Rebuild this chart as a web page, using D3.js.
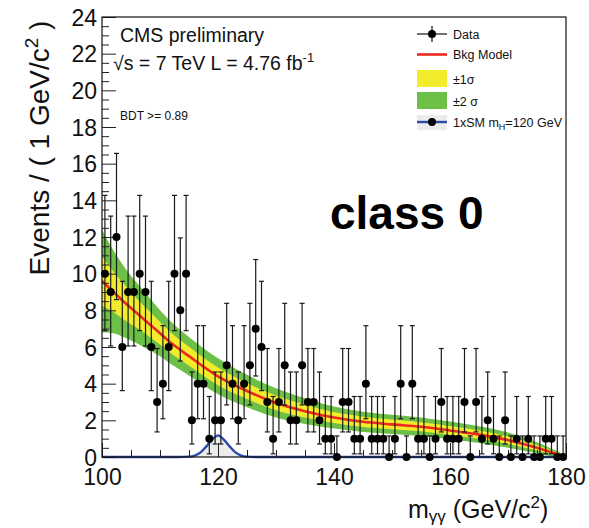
<!DOCTYPE html>
<html><head><meta charset="utf-8">
<script src="https://cdn.jsdelivr.net/npm/d3@7"></script>
<style>
body{margin:0;background:#fff;}
svg{display:block;font-family:"Liberation Sans",Arial,Helvetica,sans-serif;}
</style>
</head><body>
<svg id="c" width="589" height="528"></svg>
<script>
// ---- data ----
const binCenters = [100.5,101.5,102.5,103.5,104.5,105.5,106.5,107.5,108.5,109.5,
  110.5,111.5,112.5,113.5,114.5,115.5,116.5,117.5,118.5,119.5,
  120.5,121.5,122.5,123.5,124.5,125.5,126.5,127.5,128.5,129.5,
  130.5,131.5,132.5,133.5,134.5,135.5,136.5,137.5,138.5,139.5,
  140.5,141.5,142.5,143.5,144.5,145.5,146.5,147.5,148.5,149.5,
  150.5,151.5,152.5,153.5,154.5,155.5,156.5,157.5,158.5,159.5,
  160.5,161.5,162.5,163.5,164.5,165.5,166.5,167.5,168.5,169.5,
  170.5,171.5,172.5,173.5,174.5,175.5,176.5,177.5,178.5,179.5];
const counts = [10,9,12,6,9,9,10,9,6,3,
  4,6,10,8,10,2,4,4,1,2,
  2,5,4,2,4,5,7,6,3,1,
  3,5,2,2,5,3,3,2,1,1,
  0,3,3,1,1,4,1,1,1,0,
  1,4,0,4,1,1,0,1,3,1,
  1,1,3,0,3,1,2,1,0,2,
  0,1,0,1,0,0,1,1,0,0];
// Poisson 68% interval bounds, indexed by count
const poissonLow  = [0, 0.173, 0.708, 1.367, 2.086, 2.840, 3.620, 4.419, 5.232, 6.057, 6.891, 7.734, 8.585];
const poissonHigh = [1.148, 3.300, 4.638, 5.918, 7.163, 8.382, 9.584, 10.77, 11.95, 13.14, 14.27, 15.42, 16.56];

const bkgMass   = [100, 102, 104, 106, 108, 110, 112, 115, 120, 125, 130, 135, 140, 145, 150, 155, 160, 165, 170, 175, 178, 180];
const bkgValue  = [9.6, 9.0, 8.4, 7.85, 7.3, 6.75, 6.2, 5.5, 4.4, 3.6, 2.95, 2.5, 2.15, 1.92, 1.78, 1.65, 1.45, 1.22, 0.92, 0.5, 0.2, 0.0];
const bkgSigma1 = [1.35, 1.1, 0.95, 0.8, 0.7, 0.62, 0.57, 0.52, 0.48, 0.43, 0.4, 0.35, 0.3, 0.28, 0.26, 0.25, 0.24, 0.23, 0.21, 0.15, 0.09, 0.05];
const bkgSigma2 = [2.8, 2.25, 1.9, 1.65, 1.45, 1.25, 1.15, 1.05, 0.98, 0.88, 0.8, 0.7, 0.6, 0.55, 0.52, 0.5, 0.48, 0.46, 0.42, 0.3, 0.18, 0.1];

const sigMass  = [100, 113, 115, 116, 117, 118, 119, 120, 121, 122, 123, 124, 125, 127, 180];
const sigValue = [0, 0, 0.02, 0.08, 0.25, 0.58, 0.95, 1.18, 0.95, 0.58, 0.25, 0.08, 0.02, 0, 0];

const xTicks = [100, 120, 140, 160, 180];
const xMinorTicks = [105,110,115,125,130,135,145,150,155,165,170,175];
const yTicks = [0,2,4,6,8,10,12,14,16,18,20,22,24];
const yMinorTicks = [];
for (let v = 0.5; v < 24; v += 0.5) if (v % 2 !== 0) yMinorTicks.push(v);

// ---- colours ----
const cYellow = "#f2ec2c", cGreen = "#6cbf47", cRed = "#ec2a22", cBlue = "#2b4aa6";

const svg = d3.select("#c");
const x = d3.scaleLinear().domain([100, 180]).range([102, 566]);
const y = d3.scaleLinear().domain([0, 24]).range([457, 17]);

const bkg = bkgMass.map((m, i) => ({m, v: bkgValue[i], s1: bkgSigma1[i], s2: bkgSigma2[i]}));
const curve = d3.curveMonotoneX;

// 2 sigma band
svg.append("path").datum(bkg)
  .attr("fill", cGreen)
  .attr("d", d3.area().curve(curve).x(d => x(d.m)).y0(d => y(Math.max(0, d.v - d.s2))).y1(d => y(d.v + d.s2)));
// 1 sigma band
svg.append("path").datum(bkg)
  .attr("fill", cYellow)
  .attr("d", d3.area().curve(curve).x(d => x(d.m)).y0(d => y(Math.max(0, d.v - d.s1))).y1(d => y(d.v + d.s1)));
// background model
svg.append("path").datum(bkg)
  .attr("fill", "none").attr("stroke", cRed).attr("stroke-width", 2.6)
  .attr("d", d3.line().curve(curve).x(d => x(d.m)).y(d => y(d.v)));

// signal
const sig = sigMass.map((m, i) => ({m, v: sigValue[i]}));
svg.append("path").datum(sig)
  .attr("fill", "#ececec")
  .attr("d", d3.area().curve(d3.curveMonotoneX).x(d => x(d.m)).y0(y(0)).y1(d => y(d.v)));
svg.append("path").datum(sig)
  .attr("fill", "none").attr("stroke", cBlue).attr("stroke-width", 2.4)
  .attr("d", d3.line().curve(d3.curveMonotoneX).x(d => x(d.m)).y(d => y(d.v)));

// axes ticks (inward)
const gY = svg.append("g").attr("transform", `translate(${x(100)},0)`)
  .call(d3.axisLeft(y).tickValues(yTicks).tickSize(-14).tickPadding(5).tickFormat(d3.format("d")));
const gYm = svg.append("g").attr("transform", `translate(${x(100)},0)`)
  .call(d3.axisLeft(y).tickValues(yMinorTicks).tickSize(-7).tickFormat(""));
const gX = svg.append("g").attr("transform", `translate(0,${y(0)})`)
  .call(d3.axisBottom(x).tickValues(xTicks).tickSize(-14).tickPadding(12).tickFormat(d3.format("d")));
const gXm = svg.append("g").attr("transform", `translate(0,${y(0)})`)
  .call(d3.axisBottom(x).tickValues(xMinorTicks).tickSize(-7).tickFormat(""));
[gY, gYm, gX, gXm].forEach(g => {
  g.select(".domain").remove();
  g.selectAll(".tick line").attr("stroke", "#222").attr("stroke-width", 1);
  g.selectAll("text").attr("fill", "#111").attr("font-size", 23).attr("font-family", '"Liberation Sans",Arial,sans-serif');
});
gY.selectAll("text").attr("dy", "0.36em");

// data points with error bars
const pts = binCenters.map((m, i) => ({m, n: counts[i]}));
const gD = svg.append("g");
const pg = gD.selectAll("g").data(pts).join("g");
pg.append("line")
  .attr("x1", d => x(d.m)).attr("x2", d => x(d.m))
  .attr("y1", d => y(poissonLow[d.n])).attr("y2", d => y(poissonHigh[d.n]))
  .attr("stroke", "#1a1a1a").attr("stroke-width", 1.2);
pg.append("line")
  .attr("x1", d => x(d.m) - 2.5).attr("x2", d => x(d.m) + 2.5)
  .attr("y1", d => y(poissonHigh[d.n])).attr("y2", d => y(poissonHigh[d.n]))
  .attr("stroke", "#1a1a1a").attr("stroke-width", 1.2);
pg.filter(d => d.n > 0).append("line")
  .attr("x1", d => x(d.m) - 2.5).attr("x2", d => x(d.m) + 2.5)
  .attr("y1", d => y(poissonLow[d.n])).attr("y2", d => y(poissonLow[d.n]))
  .attr("stroke", "#1a1a1a").attr("stroke-width", 1.2);
pg.append("circle").attr("cx", d => x(d.m)).attr("cy", d => y(d.n)).attr("r", 4).attr("fill", "#000");

// frame
svg.append("rect").attr("x", x(100)).attr("y", y(24)).attr("width", x(180) - x(100)).attr("height", y(0) - y(24))
  .attr("fill", "none").attr("stroke", "#111").attr("stroke-width", 1.2);

// texts
svg.append("text").attr("x", 120).attr("y", 42).attr("font-size", 19.5).attr("fill", "#111").text("CMS preliminary");
const t2 = svg.append("text").attr("x", 113).attr("y", 70).attr("font-size", 19.5).attr("fill", "#111");
t2.append("tspan").text("\u221As = 7 TeV L = 4.76 fb");
t2.append("tspan").attr("dy", -8).attr("font-size", 13).text("-1");
svg.append("text").attr("x", 120).attr("y", 120).attr("font-size", 12).attr("fill", "#111").text("BDT >= 0.89");
svg.append("text").attr("x", 330).attr("y", 229).attr("font-size", 46).attr("font-weight", "bold").attr("fill", "#000").text("class 0");

// axis titles
const yt = svg.append("text").attr("transform", "translate(49,148) rotate(-90)")
  .attr("text-anchor", "middle").attr("font-size", 28).attr("fill", "#111");
yt.append("tspan").text("Events / ( 1 GeV/c");
yt.append("tspan").attr("dy", -11).attr("font-size", 19).text("2");
yt.append("tspan").attr("dy", 11).text(" )");

const xt = svg.append("text").attr("x", 408).attr("y", 518).attr("font-size", 25).attr("fill", "#111");
xt.append("tspan").text("m");
xt.append("tspan").attr("dy", 4).attr("font-size", 17).text("\u03B3\u03B3");
xt.append("tspan").attr("dy", -4).text(" (GeV/c");
xt.append("tspan").attr("dy", -10).attr("font-size", 17).text("2");
xt.append("tspan").attr("dy", 10).text(")");

// legend
const lx0 = 417, lx1 = 447, ltx = 453;
const leg = svg.append("g").attr("font-size", 12.5).attr("fill", "#111");
// Data
leg.append("line").attr("x1", lx0).attr("x2", lx1).attr("y1", 34).attr("y2", 34).attr("stroke", "#111").attr("stroke-width", 1.2);
leg.append("line").attr("x1", 432).attr("x2", 432).attr("y1", 26).attr("y2", 42).attr("stroke", "#111").attr("stroke-width", 1.2);
leg.append("circle").attr("cx", 432).attr("cy", 34).attr("r", 4).attr("fill", "#000");
leg.append("text").attr("x", ltx).attr("y", 38.5).text("Data");
// Bkg model
leg.append("line").attr("x1", lx0).attr("x2", lx1).attr("y1", 54.5).attr("y2", 54.5).attr("stroke", cRed).attr("stroke-width", 2.6);
leg.append("text").attr("x", ltx).attr("y", 59).text("Bkg Model");
// 1 sigma
leg.append("rect").attr("x", lx0).attr("y", 70).attr("width", lx1 - lx0).attr("height", 17).attr("fill", cYellow);
leg.append("text").attr("x", ltx).attr("y", 84).text("\u00B11\u03C3");
// 2 sigma
leg.append("rect").attr("x", lx0).attr("y", 92).attr("width", lx1 - lx0).attr("height", 17).attr("fill", cGreen);
leg.append("text").attr("x", ltx).attr("y", 105.5).text("\u00B12 \u03C3");
// signal
leg.append("rect").attr("x", lx0).attr("y", 115).attr("width", lx1 - lx0).attr("height", 15).attr("fill", "#ececec");
leg.append("line").attr("x1", lx0).attr("x2", lx1).attr("y1", 122).attr("y2", 122).attr("stroke", cBlue).attr("stroke-width", 2.4);
leg.append("circle").attr("cx", 432).attr("cy", 122).attr("r", 4).attr("fill", "#000");
const st = leg.append("text").attr("x", ltx).attr("y", 126.5);
st.append("tspan").text("1xSM m");
st.append("tspan").attr("dy", 3).attr("font-size", 9).text("H");
st.append("tspan").attr("dy", -3).text("=120 GeV");
</script>
</body></html>
